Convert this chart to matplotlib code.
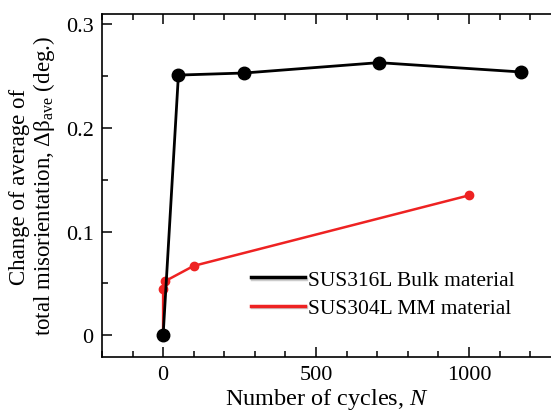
import numpy as np
import matplotlib
matplotlib.use("Agg")
import matplotlib.pyplot as plt
import matplotlib.patheffects as pe
from matplotlib.ticker import MultipleLocator

plt.rcParams["font.family"] = ["Liberation Serif", "DejaVu Serif"]
plt.rcParams["mathtext.fontset"] = "custom"
plt.rcParams["mathtext.rm"] = "Liberation Serif"
plt.rcParams["mathtext.it"] = "Liberation Serif:italic"

# SUS316L bulk
bulk_cycles = [0, 50, 265, 705, 1170]
bulk_dbeta = [0.0, 0.251, 0.253, 0.263, 0.254]

# SUS304L MM (starts at origin, then measured points)
mm_cycles = [0, 0, 5, 100, 1000]
mm_dbeta = [0.0, 0.045, 0.052, 0.067, 0.135]
mm_marked = [1, 2, 3, 4]

fig = plt.figure(figsize=(5.51, 4.14), dpi=100)
ax = fig.add_axes([0.185, 0.135, 0.815, 0.829])

ax.plot(mm_cycles, mm_dbeta, color="#ee2222", lw=1.8, marker="o", ms=6,
        markevery=mm_marked, label="SUS304L MM material", zorder=2)
ax.plot(bulk_cycles, bulk_dbeta, color="black", lw=2.0, marker="o", ms=9,
        label="SUS316L Bulk material", zorder=3)

ax.set_xlim(-200, 1268)
ax.set_ylim(-0.021, 0.31)
ax.xaxis.set_major_locator(MultipleLocator(500))
ax.xaxis.set_minor_locator(MultipleLocator(100))
ax.yaxis.set_minor_locator(MultipleLocator(0.05))
ax.set_yticks([0, 0.1, 0.2, 0.3])
ax.set_yticklabels(["0", "0.1", "0.2", "0.3"])

ax.spines["right"].set_visible(False)
for s in ["left", "bottom", "top"]:
    ax.spines[s].set_linewidth(1.2)
ax.tick_params(which="both", direction="in", top=True, right=False,
               labelsize=16, width=1.1)
ax.tick_params(which="major", length=7, pad=6)
ax.tick_params(which="minor", length=4)

ax.set_xlabel("Number of cycles, $N$", fontsize=17.5, labelpad=1)
ax.set_ylabel("Change of average of\ntotal misorientation, Δβ$_{\\rm ave}$ (deg.)",
              fontsize=16.5, labelpad=6, linespacing=1.05)

h, l = ax.get_legend_handles_labels()
leg = ax.legend(h[::-1], l[::-1], frameon=False, fontsize=15.5, handlelength=2.5,
                handletextpad=0.15, labelspacing=0.4,
                loc="center left", bbox_to_anchor=(0.455, 0.2875),
                bbox_transform=fig.transFigure, borderpad=0, borderaxespad=0)
for line in leg.get_lines():
    line.set_marker("")
    line.set_linewidth(2.5)
    line.set_path_effects([pe.SimpleLineShadow(offset=(1, -1), alpha=0.2),
                           pe.Normal()])

fig.savefig("out.png", dpi=100)
